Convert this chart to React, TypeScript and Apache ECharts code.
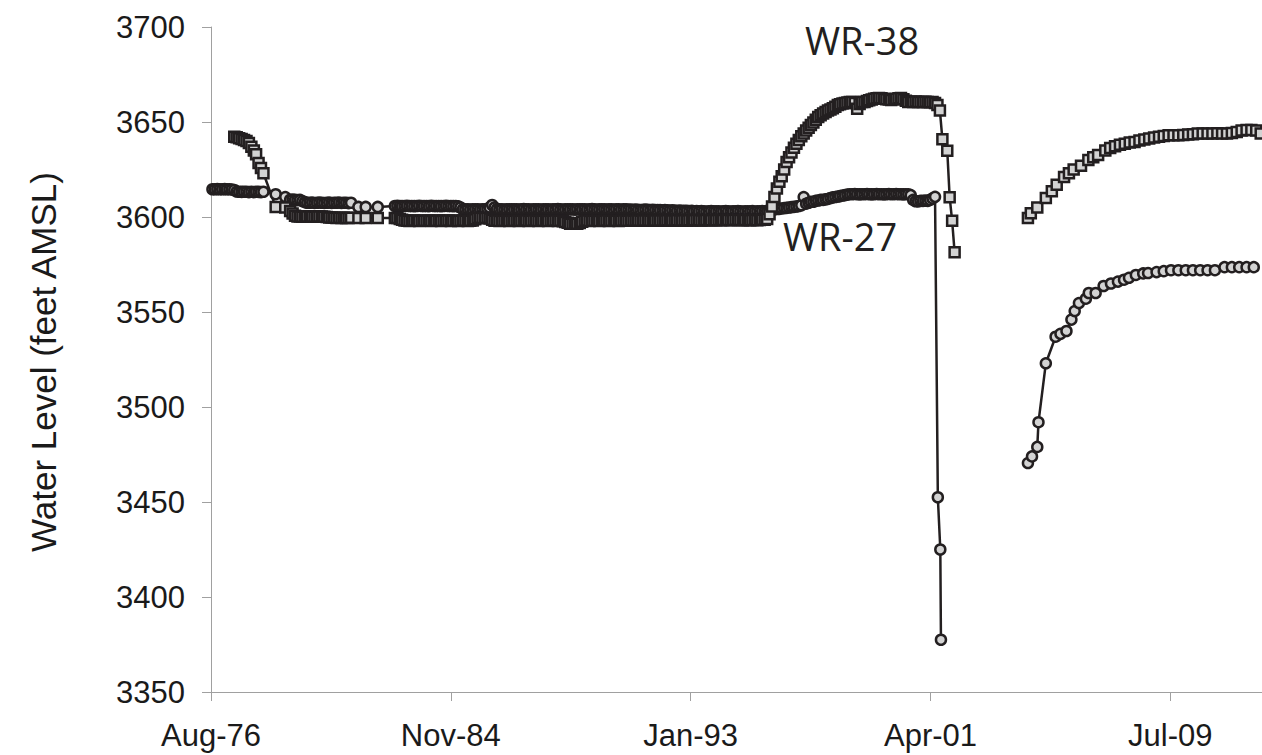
import React, { useEffect, useRef } from "react";
import * as echarts from "echarts";

const N = null;

// Axis origin (Excel serial 28000 = 28 Aug 1976); x values are days from it
const ORIGIN = Date.UTC(1976, 7, 28);
const MONTHS = ["Jan", "Feb", "Mar", "Apr", "May", "Jun", "Jul", "Aug", "Sep", "Oct", "Nov", "Dec"];

// WR-27 monthly readings (rows = years starting 1976, columns = Jan..Dec)
const wr27StartYear = 1976;
const wr27Monthly: (number | null)[][] = [
  [N, N, N, N, N, N, N, N, 3614.6, 3614.6, 3614.7, 3614.6],
  [3614.6, 3614.7, 3614.6, 3614.6, 3614.5, 3614.2, 3613.4, 3613.3, 3613.2, 3613.3, 3613.3, 3613.1],
  [3613.3, 3613.1, 3613.3, 3613.2, 3613.1, 3613.3, N, N, N, N, 3612.0, N],
  [N, N, 3610.5, N, 3609.1, 3609.2, 3609.0, 3608.9, 3609.0, 3608.4, 3607.8, 3607.5],
  [3607.5, 3607.6, 3607.4, 3607.5, 3607.6, 3607.5, 3607.4, 3607.5, 3607.6, 3607.4, 3607.5, 3607.5],
  [3607.6, 3607.4, 3607.5, 3607.5, 3607.3, 3607.5, N, N, 3605.3, N, N, 3605.3],
  [N, N, N, N, 3605.3, N, N, N, N, N, N, 3605.8],
  [3605.9, 3605.8, 3605.7, 3605.8, 3605.9, 3605.8, 3605.8, 3605.7, 3605.8, 3605.9, 3605.8, 3605.8],
  [3605.8, 3605.7, 3605.9, 3605.8, 3605.8, 3605.8, 3605.7, 3605.8, 3605.9, 3605.8, 3605.8, 3605.7],
  [3605.8, 3605.6, 3605.0, 3604.1, 3604.0, 3604.1, 3603.9, 3604.0, 3604.1, 3604.0, 3603.9, 3604.0],
  [3604.0, 3604.1, 3605.0, 3606.3, 3605.0, 3604.2, 3604.0, 3604.1, 3603.9, 3604.0, 3604.1, 3604.0],
  [3604.0, 3604.1, 3603.9, 3604.0, 3604.2, 3604.0, 3604.1, 3603.9, 3604.0, 3604.1, 3604.0, 3603.9],
  [3604.1, 3604.0, 3604.0, 3603.9, 3604.1, 3604.0, 3604.2, 3604.0, 3603.9, 3604.0, 3604.1, 3604.0],
  [3604.0, 3603.9, 3604.1, 3604.0, 3604.0, 3604.1, 3603.9, 3604.0, 3604.2, 3604.0, 3603.9, 3604.0],
  [3604.0, 3604.1, 3603.9, 3604.0, 3604.0, 3603.9, 3604.1, 3604.0, 3603.9, 3604.0, 3604.0, 3603.9],
  [3603.9, 3603.8, 3603.9, 3603.8, 3603.7, 3603.8, 3603.9, 3603.8, 3603.7, 3603.8, 3603.7, 3603.6],
  [3603.6, 3603.5, 3603.6, 3603.5, 3603.4, 3603.5, 3603.4, 3603.3, 3603.4, 3603.3, 3603.2, 3603.2],
  [3603.1, 3603.2, 3603.0, 3603.1, 3603.0, 3603.1, 3603.0, 3602.9, 3603.0, 3603.1, 3603.0, 3603.0],
  [3603.0, 3602.9, 3603.0, 3603.1, 3603.0, 3602.9, 3603.0, 3603.0, 3603.1, 3603.0, 3602.9, 3603.0],
  [3603.0, 3603.0, 3603.1, 3602.9, 3603.0, 3603.0, 3603.1, 3603.0, 3603.2, 3603.5, 3603.8, 3604.0],
  [3604.2, 3604.3, 3604.5, 3604.7, 3604.8, 3605.0, 3605.2, 3605.3, 3605.5, 3605.8, 3606.2, 3610.5],
  [3607.0, 3607.5, 3608.0, 3608.0, 3608.5, 3608.7, 3609.0, 3609.0, 3609.3, 3609.5, 3610.0, 3610.3],
  [3610.5, 3610.8, 3611.0, 3611.3, 3611.5, 3611.8, 3612.0, 3612.0, 3612.1, 3612.0, 3611.9, 3612.0],
  [3612.0, 3612.1, 3612.0, 3611.9, 3612.0, 3612.1, 3612.0, 3612.0, 3611.9, 3612.0, 3612.1, 3612.0],
  [3612.0, 3612.1, 3612.0, 3612.0, 3611.9, 3612.0, 3612.0, 3611.5, 3609.0, 3608.3, 3608.2, 3608.5],
  [3608.5, 3608.6, 3608.5, 3609.0, 3609.8, 3610.6, N, N, N, N, N, N],
];
const wr27DropDates = ["2001-07-20", "2001-08-20", "2001-08-28"];
const wr27DropLevels = [3452.5, 3425.0, 3377.5];
const wr27RecoveryDates = [
  "2004-08-20", "2004-10-10", "2004-12-15", "2004-12-30", "2005-04-01", "2005-08-01", "2005-10-01",
  "2005-12-15", "2006-02-15", "2006-03-28", "2006-05-20", "2006-08-15", "2006-09-20", "2006-12-15",
  "2007-03-25", "2007-06-25", "2007-09-20", "2007-12-05", "2008-02-05", "2008-05-01", "2008-08-01",
  "2008-10-01", "2009-01-15", "2009-04-15", "2009-07-15", "2009-10-15", "2010-01-15", "2010-04-15",
  "2010-07-15", "2010-10-15", "2011-01-15", "2011-05-15", "2011-08-15", "2011-11-15", "2012-02-15",
  "2012-05-15",
];
const wr27RecoveryLevels = [
  3470.5, 3474.0, 3479.0, 3492.0, 3523.0, 3537.0, 3538.5,
  3540.0, 3546.0, 3550.5, 3554.7, 3557.0, 3560.0, 3560.0,
  3563.7, 3565.0, 3566.0, 3567.0, 3568.0, 3569.5, 3570.3,
  3570.5, 3571.0, 3571.5, 3572.0, 3572.0, 3572.0, 3572.0,
  3572.0, 3572.0, 3572.0, 3573.6, 3573.6, 3573.6, 3573.6,
  3573.6,
];

// WR-38 monthly readings (rows = years starting 1977)
const wr38StartYear = 1977;
const wr38Monthly: (number | null)[][] = [
  [N, N, N, N, N, 3642.3, 3642.0, 3641.5, 3641.0, 3640.5, 3640.0, 3639.0],
  [3637.0, 3635.0, 3633.0, 3628.4, 3625.8, 3623.0, N, N, N, N, 3605.3, N],
  [N, N, 3605.0, N, 3603.2, 3601.8, 3600.6, 3600.2, 3600.3, 3600.1, 3600.2, 3600.3],
  [3600.2, 3600.3, 3600.1, 3600.2, 3600.2, 3600.3, 3600.1, 3600.0, 3599.8, 3599.7, 3599.6, 3599.5],
  [3599.6, 3599.5, 3599.6, 3599.5, 3599.5, 3599.6, N, N, 3599.5, N, N, 3599.5],
  [N, N, N, N, 3599.5, N, N, N, N, N, N, 3599.5],
  [3599.5, 3599.0, 3598.5, 3598.1, 3598.0, 3597.9, 3598.0, 3598.1, 3598.0, 3597.9, 3598.0, 3598.0],
  [3598.0, 3598.1, 3597.9, 3598.0, 3598.0, 3598.1, 3597.9, 3598.0, 3598.0, 3598.1, 3597.9, 3598.0],
  [3598.0, 3597.9, 3598.0, 3598.1, 3598.0, 3597.9, 3598.0, 3598.2, 3598.8, 3599.5, 3599.6, 3599.5],
  [3599.5, 3599.6, 3599.2, 3598.5, 3598.0, 3598.1, 3597.9, 3598.0, 3598.0, 3598.1, 3597.9, 3598.0],
  [3598.0, 3598.1, 3597.9, 3598.0, 3598.0, 3598.1, 3597.9, 3598.0, 3598.1, 3598.0, 3597.9, 3598.0],
  [3598.0, 3598.1, 3597.9, 3598.0, 3598.0, 3598.1, 3597.9, 3598.0, 3597.8, 3597.4, 3597.0, 3596.5],
  [3596.5, 3596.6, 3596.5, 3596.8, 3597.5, 3598.0, 3598.1, 3597.9, 3598.0, 3598.0, 3598.1, 3597.9],
  [3598.0, 3598.0, 3598.1, 3597.9, 3598.0, 3598.1, 3598.0, 3597.9, 3598.0, 3598.1, 3598.0, 3598.0],
  [3598.1, 3598.0, 3598.1, 3598.2, 3598.0, 3598.1, 3598.2, 3598.1, 3598.0, 3598.1, 3598.2, 3598.1],
  [3598.2, 3598.1, 3598.2, 3598.3, 3598.2, 3598.1, 3598.2, 3598.3, 3598.2, 3598.2, 3598.3, 3598.2],
  [3598.3, 3598.2, 3598.3, 3598.4, 3598.3, 3598.2, 3598.3, 3598.4, 3598.3, 3598.3, 3598.4, 3598.3],
  [3598.4, 3598.3, 3598.4, 3598.5, 3598.4, 3598.3, 3598.4, 3598.5, 3598.4, 3598.4, 3598.3, 3598.4],
  [3598.4, 3598.3, 3598.4, 3598.5, 3598.3, 3598.4, 3598.5, 3598.6, 3599.0, 3601.5, 3605.5, 3610.5],
  [3615.0, 3618.5, 3621.5, 3625.0, 3629.0, 3631.5, 3634.0, 3636.5, 3638.5, 3640.5, 3642.5, 3644.0],
  [3645.5, 3647.0, 3648.4, 3649.7, 3651.2, 3652.6, 3653.5, 3654.5, 3655.3, 3656.0, 3656.6, 3657.2],
  [3658.0, 3659.0, 3659.3, 3659.7, 3660.0, 3660.3, 3660.5, 3660.5, 3660.0, 3657.0, 3659.5, 3660.5],
  [3660.5, 3661.0, 3661.5, 3661.8, 3662.2, 3662.5, 3662.6, 3662.5, 3662.2, 3662.0, 3661.8, 3661.6],
  [3662.0, 3662.3, 3662.5, 3662.6, 3662.0, 3661.2, 3660.5, 3660.6, 3660.5, 3660.8, 3660.5, 3660.5],
  [3660.5, 3660.6, 3660.5, 3660.4, 3660.5, 3660.0, 3659.0, 3656.0, 3640.9, N, 3634.9, 3610.4],
  [3598.0, 3581.4, N, N, N, N, N, N, N, N, N, N],
];
const wr38RecoveryDates = [
  "2004-08-20", "2004-09-25", "2004-12-15", "2005-04-01", "2005-06-15", "2005-08-15", "2005-11-15",
  "2006-01-15", "2006-03-15", "2006-06-15", "2006-09-15", "2006-11-15", "2007-01-15", "2007-04-15",
  "2007-06-15", "2007-08-15", "2007-10-15", "2007-12-15", "2008-02-15", "2008-04-15", "2008-06-15",
  "2008-08-15", "2008-10-15", "2008-12-15", "2009-02-15", "2009-04-15", "2009-06-15", "2009-08-15",
  "2009-10-15", "2009-12-15", "2010-02-15", "2010-04-15", "2010-06-15", "2010-08-15", "2010-10-15",
  "2010-12-15", "2011-02-15", "2011-04-15", "2011-06-15", "2011-08-15", "2011-10-15", "2011-12-15",
  "2012-02-15", "2012-04-15", "2012-06-15", "2012-08-10",
];
const wr38RecoveryLevels = [
  3599.5, 3602.0, 3605.0, 3610.0, 3613.5, 3617.0, 3621.0,
  3623.0, 3625.0, 3627.0, 3630.0, 3631.5, 3632.6, 3635.0,
  3636.3, 3637.3, 3638.0, 3638.6, 3639.2, 3639.5, 3640.2,
  3640.8, 3641.3, 3641.8, 3642.3, 3642.6, 3643.0, 3643.0,
  3643.0, 3643.2, 3643.4, 3643.6, 3644.0, 3644.0, 3644.0,
  3644.0, 3644.1, 3644.0, 3644.0, 3644.2, 3644.8, 3645.5,
  3645.8, 3645.8, 3645.5, 3644.0,
];
const gapDate = "2003-01-01";

const dayOffsetOf = (y: number, m: number, d: number) => (Date.UTC(y, m - 1, d) - ORIGIN) / 86400000;
const dayOffsetStr = (s: string) => {
  const [y, m, d] = s.split("-").map(Number);
  return dayOffsetOf(y, m, d);
};

function buildSeries(
  startYear: number,
  monthly: (number | null)[][],
  extraDates: string[],
  extraLevels: number[],
  recDates: string[],
  recLevels: number[]
) {
  const pts: any[] = [];
  monthly.forEach((row, yi) => {
    row.forEach((v, mi) => {
      if (v !== null) pts.push([dayOffsetOf(startYear + yi, mi + 1, 15), v]);
    });
  });
  extraDates.forEach((d, i) => pts.push([dayOffsetStr(d), extraLevels[i]]));
  pts.push([dayOffsetStr(gapDate), "-"]);
  recDates.forEach((d, i) => pts.push([dayOffsetStr(d), recLevels[i]]));
  return pts;
}

const fmtTick = (v: number) => {
  if (v % 3000 !== 0) return "";
  const d = new Date(ORIGIN + v * 86400000);
  return MONTHS[d.getUTCMonth()] + "-" + String(d.getUTCFullYear()).slice(2);
};

const INK = "#231f20";
const AXIS = "#a0a0a0";
const FONT = "'Liberation Sans', Arial, sans-serif";
const LABEL_FONT = "'Open Sans', 'Noto Sans', sans-serif";

export default function App() {
  const ref = useRef<HTMLDivElement>(null);
  useEffect(() => {
    if (!ref.current) return;
    const chart = echarts.init(ref.current, undefined, { renderer: "svg" });
    const wr27 = buildSeries(wr27StartYear, wr27Monthly, wr27DropDates, wr27DropLevels, wr27RecoveryDates, wr27RecoveryLevels);
    const wr38 = buildSeries(wr38StartYear, wr38Monthly, [], [], wr38RecoveryDates, wr38RecoveryLevels);
    const seriesBase = {
      type: "line",
      showSymbol: true,
      showAllSymbol: true,
      symbolSize: 10,
      connectNulls: false,
      silent: true,
      lineStyle: { color: INK, width: 2.5 },
      itemStyle: { color: "#d3d3d3", borderColor: INK, borderWidth: 2.5 },
    };
    chart.setOption({
      animation: false,
      backgroundColor: "#ffffff",
      grid: { left: 211, top: 27, right: 0, height: 665 },
      xAxis: {
        type: "value",
        min: 0,
        max: 13147,
        interval: 3000,
        splitLine: { show: false },
        axisLine: { show: true, lineStyle: { color: AXIS, width: 1 } },
        axisTick: { show: true, inside: false, length: 9, lineStyle: { color: AXIS, width: 1 } },
        axisLabel: {
          formatter: fmtTick,
          showMaxLabel: false,
          margin: 28,
          fontSize: 31,
          fontFamily: FONT,
          color: "#1a1a1a",
        },
      },
      yAxis: {
        type: "value",
        min: 3350,
        max: 3700,
        interval: 50,
        splitLine: { show: false },
        axisLine: { show: true, lineStyle: { color: AXIS, width: 1 } },
        axisTick: { show: true, inside: false, length: 9, lineStyle: { color: AXIS, width: 1 } },
        axisLabel: {
          margin: 26,
          fontSize: 31,
          fontFamily: FONT,
          color: "#1a1a1a",
          formatter: (v: number) => String(v),
        },
      },
      graphic: [
        {
          type: "text",
          x: 43,
          y: 362,
          rotation: Math.PI / 2,
          style: {
            text: "Water Level (feet AMSL)",
            font: `35px ${FONT}`,
            fill: "#1a1a1a",
            textAlign: "center",
            textVerticalAlign: "middle",
          },
        },
        {
          type: "text",
          x: 862,
          y: 40,
          style: {
            text: "WR-38",
            font: `38px ${LABEL_FONT}`,
            fill: INK,
            textAlign: "center",
            textVerticalAlign: "middle",
          },
        },
        {
          type: "text",
          x: 840,
          y: 236,
          style: {
            text: "WR-27",
            font: `38px ${LABEL_FONT}`,
            fill: INK,
            textAlign: "center",
            textVerticalAlign: "middle",
          },
        },
      ],
      series: [
        { ...seriesBase, name: "WR-27", symbol: "circle", data: wr27 },
        { ...seriesBase, name: "WR-38", symbol: "rect", data: wr38 },
      ],
    });
    return () => chart.dispose();
  }, []);
  return (
    <div
      ref={ref}
      style={{ position: "fixed", left: 0, top: 0, width: 1262, height: 755, background: "#fff" }}
    />
  );
}
